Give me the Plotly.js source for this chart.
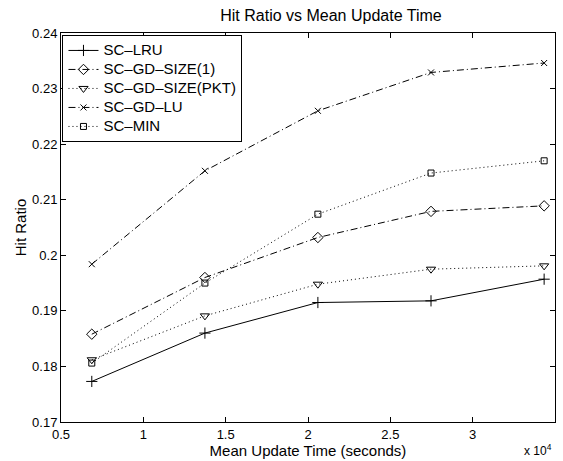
<!DOCTYPE html>
<html>
<head>
<meta charset="utf-8">
<script src="https://cdn.plot.ly/plotly-3.0.1.min.js"></script>
<style>
  html, body { margin: 0; padding: 0; background: #fff; }
  #chart { width: 563px; height: 461px; }
</style>
</head>
<body>
<div id="chart"></div>
<script>
// Mean update time (seconds) at which each cache policy was measured
const updateTime = [6870, 13740, 20600, 27470, 34340];

// Hit ratio per policy
const scLRU       = [0.1773, 0.1860, 0.1915, 0.1918, 0.1957];
const scGDSize1   = [0.1858, 0.1960, 0.2032, 0.2079, 0.2089];
const scGDSizePKT = [0.1812, 0.1891, 0.1948, 0.1975, 0.1981];
const scGDLU      = [0.1984, 0.2152, 0.2260, 0.2329, 0.2346];
const scMIN       = [0.1806, 0.1950, 0.2074, 0.2148, 0.2170];

const seriesNames = ['SC\u2013LRU', 'SC\u2013GD\u2013SIZE(1)', 'SC\u2013GD\u2013SIZE(PKT)', 'SC\u2013GD\u2013LU', 'SC\u2013MIN'];

// Axis ticks (x shown in units of 10^4 s)
const xTickVals = [5000, 10000, 15000, 20000, 25000, 30000, 35000];
const xTickText = ['0.5', '1', '1.5', '2', '2.5', '3', '3.5'];
const yTickVals = [0.17, 0.18, 0.19, 0.20, 0.21, 0.22, 0.23, 0.24];
const yTickText = ['0.17', '0.18', '0.19', '0.2', '0.21', '0.22', '0.23', '0.24'];

const FONT = 'Liberation Sans, Arial, Helvetica, sans-serif';

// Legend rows are kept compact (row height follows legend.font.size)
// while the label text itself is drawn a little larger.
function legendLabel(name) {
  return '<span style="font-size:15px">' + name + '</span>';
}

function series(y, name, dash, symbol, size) {
  return {
    x: updateTime, y: y, name: legendLabel(name), type: 'scatter', mode: 'lines+markers',
    line: { color: '#000', width: 1, dash: dash },
    marker: { symbol: symbol, size: size, color: '#000', line: { color: '#000', width: 1 } }
  };
}

const dashDot = '7px,3px,1px,3px';
const dotted = '1px,3px';

const data = [
  series(scLRU,       seriesNames[0], 'solid', 'cross-thin-open', 8),
  series(scGDSize1,   seriesNames[1], dashDot, 'diamond-open', 8),
  series(scGDSizePKT, seriesNames[2], dotted,  'triangle-down-open', 8),
  series(scGDLU,      seriesNames[3], dashDot, 'x-thin-open', 6),
  series(scMIN,       seriesNames[4], dotted,  'square-open', 6)
];

const axisCommon = {
  showgrid: false, zeroline: false,
  showline: true, linecolor: '#000', linewidth: 1, mirror: 'allticks',
  ticks: 'inside', ticklen: 5, tickwidth: 1, tickcolor: '#000',
  tickfont: { family: FONT, size: 13, color: '#000' }
};

const layout = {
  width: 563, height: 461,
  margin: { l: 61, r: 8, t: 33, b: 39 },
  paper_bgcolor: '#fff', plot_bgcolor: '#fff',
  font: { family: FONT, color: '#000' },
  title: {
    text: 'Hit Ratio vs Mean Update Time',
    font: { family: FONT, size: 16, color: '#000' },
    x: 0.5465, xanchor: 'center', xref: 'paper',
    y: 1 - 15 / 461, yanchor: 'middle', yref: 'container'
  },
  xaxis: Object.assign({}, axisCommon, {
    range: [5000, 35000],
    tickmode: 'array', tickvals: xTickVals, ticktext: xTickText,
    title: { text: 'Mean Update Time (seconds)', font: { family: FONT, size: 15, color: '#000' }, standoff: 1 }
  }),
  yaxis: Object.assign({}, axisCommon, {
    range: [0.17, 0.24],
    tickmode: 'array', tickvals: yTickVals, ticktext: yTickText,
    title: { text: 'Hit Ratio', font: { family: FONT, size: 15, color: '#000' }, standoff: 1 }
  }),
  showlegend: true,
  legend: {
    x: 0.003, y: 0.995, xanchor: 'left', yanchor: 'top',
    bgcolor: '#fff', bordercolor: '#000', borderwidth: 1,
    font: { family: FONT, size: 12, color: '#000' },
    tracegroupgap: 0
  },
  annotations: [{
    text: 'x 10<sup>4</sup>', xref: 'paper', yref: 'paper',
    x: 0.9655, y: -0.0977, xanchor: 'center', yanchor: 'bottom', showarrow: false,
    font: { family: FONT, size: 12, color: '#000' }
  }]
};

Plotly.newPlot('chart', data, layout, { displayModeBar: false, staticPlot: true });
</script>
</body>
</html>
